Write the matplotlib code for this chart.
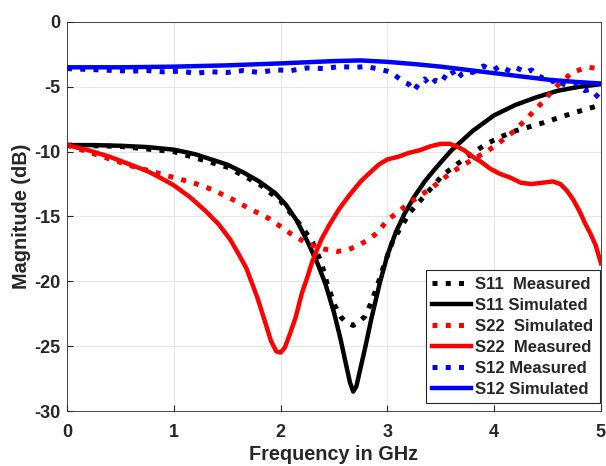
import matplotlib
matplotlib.use("Agg")
import matplotlib.pyplot as plt

# S11 measured (black dotted)
f_s11_meas = [0, 0.5, 1.0, 1.5, 1.8, 2.0, 2.2, 2.3, 2.38, 2.44, 2.51, 2.57, 2.62, 2.68,
              2.74, 2.79, 2.84, 2.9, 2.95, 3.05, 3.21, 3.37, 3.52, 3.68, 3.8, 3.93,
              4.05, 4.2, 4.45, 4.75, 5.0]
s11_meas = [-9.5, -9.6, -10.0, -11.2, -12.5, -13.8, -15.8, -17.0, -18.5, -20.3, -21.9,
            -22.8, -23.2, -23.4, -23.1, -22.7, -21.8, -20.5, -19.2, -16.9, -14.7, -13.2,
            -11.8, -10.8, -10.1, -9.4, -8.9, -8.4, -7.8, -7.0, -6.4]

# S11 simulated (black solid)
f_s11_sim = [0, 0.25, 0.5, 0.75, 1.0, 1.2, 1.35, 1.5, 1.65, 1.8, 1.95, 2.05, 2.15, 2.25,
             2.35, 2.42, 2.5, 2.56, 2.61, 2.65, 2.68, 2.71, 2.74, 2.79, 2.85, 2.93, 3.0,
             3.08, 3.16, 3.25, 3.35, 3.45, 3.6, 3.8, 4.0, 4.2, 4.4, 4.6, 4.8, 5.0]
s11_sim = [-9.5, -9.5, -9.55, -9.65, -9.85, -10.2, -10.6, -11.0, -11.6, -12.3, -13.2,
           -14.1, -15.3, -16.9, -18.7, -20.2, -22.4, -24.4, -26.3, -27.8, -28.5, -28.1,
           -27.0, -25.2, -22.9, -20.1, -18.0, -16.2, -14.8, -13.5, -12.3, -11.3, -9.9,
           -8.4, -7.2, -6.4, -5.8, -5.3, -5.0, -4.8]

# S22 simulated (red dotted)
f_s22_sim = [0, 0.3, 0.6, 0.87, 1.0, 1.18, 1.35, 1.53, 1.71, 1.9, 2.09, 2.25, 2.4, 2.53,
             2.62, 2.71, 2.8, 2.9, 3.0, 3.2, 3.43, 3.6, 3.8, 3.93, 4.05, 4.19, 4.3,
             4.44, 4.58, 4.73, 4.87, 5.0]
s22_sim = [-9.5, -10.3, -11.1, -11.7, -12.0, -12.4, -12.9, -13.6, -14.4, -15.2, -16.3,
           -17.1, -17.5, -17.7, -17.6, -17.3, -16.9, -16.3, -15.3, -14.0, -12.7, -11.6,
           -10.6, -10.0, -9.3, -8.4, -7.5, -6.3, -5.0, -3.9, -3.5, -3.6]

# S22 measured (red solid)
f_s22_meas = [0, 0.2, 0.4, 0.56, 0.75, 0.87, 1.0, 1.15, 1.3, 1.42, 1.53, 1.6, 1.68, 1.78,
              1.85, 1.91, 1.96, 2.0, 2.04, 2.09, 2.14, 2.2, 2.25, 2.3, 2.38, 2.46, 2.55,
              2.65, 2.75, 2.84, 2.92, 3.0, 3.1, 3.2, 3.3, 3.4, 3.5, 3.58, 3.65, 3.72,
              3.8, 3.88, 3.96, 4.05, 4.15, 4.25, 4.35, 4.45, 4.55, 4.62, 4.68, 4.74,
              4.8, 4.85, 4.9, 4.95, 5.0]
s22_meas = [-9.5, -9.9, -10.4, -10.9, -11.5, -12.0, -12.6, -13.5, -14.6, -15.6, -16.8,
            -17.8, -19.0, -21.2, -23.0, -24.6, -25.4, -25.5, -25.1, -24.0, -22.8, -20.9,
            -19.7, -18.4, -16.8, -15.6, -14.4, -13.3, -12.3, -11.6, -11.0, -10.6, -10.4,
            -10.1, -9.9, -9.6, -9.4, -9.4, -9.6, -9.9, -10.4, -10.8, -11.3, -11.7, -12.0,
            -12.4, -12.5, -12.4, -12.3, -12.5, -13.0, -13.7, -14.6, -15.5, -16.3, -17.2,
            -18.6]

# S12 measured (blue dotted)
f_s12_meas = [0, 0.15, 0.3, 0.45, 0.6, 0.75, 0.9, 1.05, 1.2, 1.35, 1.5, 1.65, 1.8, 1.95,
              2.1, 2.25, 2.4, 2.55, 2.7, 2.8, 2.9, 3.0, 3.05, 3.1, 3.15, 3.2, 3.25, 3.3,
              3.35, 3.4, 3.45, 3.5, 3.55, 3.6, 3.65, 3.7, 3.75, 3.8, 3.85, 3.9, 3.95,
              4.0, 4.05, 4.1, 4.15, 4.2, 4.25, 4.3, 4.35, 4.4, 4.45, 4.5, 4.55, 4.6,
              4.65, 4.7, 4.75, 4.8, 4.85, 4.9, 4.95, 5.0]
s12_meas = [-3.6, -3.65, -3.7, -3.75, -3.8, -3.75, -3.85, -3.8, -3.95, -3.85, -3.9,
            -3.75, -3.9, -3.7, -3.75, -3.55, -3.6, -3.45, -3.5, -3.45, -3.6, -3.8,
            -3.95, -4.3, -4.6, -4.8, -5.3, -4.7, -4.4, -4.9, -4.5, -4.7, -4.1, -3.7,
            -4.4, -4.0, -3.8, -3.9, -3.6, -3.4, -3.6, -3.7, -3.4, -3.6, -3.8, -3.5,
            -3.7, -3.9, -3.7, -4.1, -4.3, -4.2, -4.6, -4.4, -4.8, -4.9, -4.7, -5.0,
            -5.3, -5.2, -5.6, -6.0]

# S12 simulated (blue solid)
f_s12_sim = [0, 0.5, 1, 1.5, 2, 2.5, 2.75, 3, 3.25, 3.5, 3.75, 4, 4.25, 4.5, 4.75, 5]
s12_sim = [-3.5, -3.5, -3.45, -3.35, -3.2, -3.02, -2.97, -3.08, -3.25, -3.45, -3.7,
           -3.95, -4.2, -4.45, -4.62, -4.75]

x_ticks = [0, 1, 2, 3, 4, 5]
y_ticks = [0, -5, -10, -15, -20, -25, -30]

plt.rcParams['font.family'] = ['Liberation Sans', 'DejaVu Sans']
plt.rcParams['font.weight'] = 'bold'
plt.rcParams['axes.unicode_minus'] = False

fig = plt.figure(figsize=(6.06, 4.66), dpi=100)
ax = fig.add_axes([0.1106, 0.118, 0.881, 0.835])

lw_solid = 3.2
lw_dot = 3.6
ax.plot(f_s11_meas, s11_meas, color='black', ls=':', lw=lw_dot, label='S11  Measured')
ax.plot(f_s11_sim, s11_sim, color='black', ls='-', lw=lw_solid, label='S11 Simulated')
ax.plot(f_s22_sim, s22_sim, color='red', ls=':', lw=lw_dot, label='S22  Simulated')
ax.plot(f_s22_meas, s22_meas, color='red', ls='-', lw=lw_solid, label='S22  Measured')
ax.plot(f_s12_meas, s12_meas, color='blue', ls=':', lw=lw_dot, label='S12 Measured')
ax.plot(f_s12_sim, s12_sim, color='blue', ls='-', lw=lw_solid, label='S12 Simulated')

ax.set_xlim(0, 5)
ax.set_ylim(-30, 0)
ax.set_xticks(x_ticks)
ax.set_yticks(y_ticks)
ax.tick_params(direction='in', length=4, labelsize=13, color='#262626',
               labelcolor='#262626')
ax.tick_params(axis='x', pad=9)
ax.tick_params(axis='y', pad=5)
ax.grid(True, color='#e6e6e6', lw=0.8)
for s in ax.spines.values():
    s.set_color('#262626')
    s.set_linewidth(0.6)

ax.set_xlabel('Frequency in GHz', fontsize=14.3, fontweight='bold', color='#262626',
              labelpad=3)
ax.set_ylabel('Magnitude (dB)', fontsize=14.3, fontweight='bold', color='#262626',
              labelpad=2)

leg = ax.legend(loc='lower right', bbox_to_anchor=(0.9975, 0.02), fontsize=12,
                handlelength=2.35, handletextpad=0.2, labelspacing=0.36,
                borderpad=0.4, borderaxespad=0.0, fancybox=False, framealpha=1)
leg.get_frame().set_edgecolor('#262626')
leg.get_frame().set_linewidth(0.8)
for t in leg.get_texts():
    t.set_color('#262626')

fig.savefig('out.png', dpi=100)
